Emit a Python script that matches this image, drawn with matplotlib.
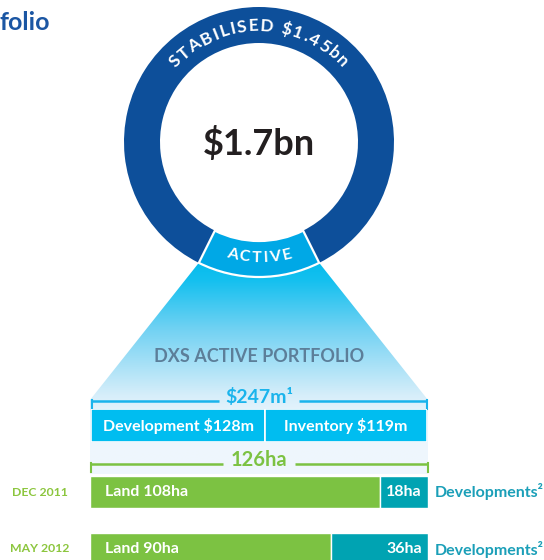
import numpy as np
import matplotlib
matplotlib.use("Agg")
import matplotlib.pyplot as plt
from matplotlib.patches import Wedge, Polygon
from matplotlib.font_manager import FontProperties, findfont, get_font

# ---------------- data ----------------
title_fragment = "folio"
total_label = "$1.7bn"
total_value = 1.7
stabilised_value = 1.45
stabilised_label = "STABILISED $1.45bn"
active_label = "ACTIVE"
portfolio_title = "DXS ACTIVE PORTFOLIO"
portfolio_total_label = "$247m\u00b9"
portfolio_parts = ["Development", "Inventory"]
portfolio_values = [128, 119]
area_total_label = "126ha"
periods = ["DEC 2011", "MAY 2012"]
land_ha = [108, 90]
dev_ha = [18, 36]
dev_suffix = "Developments\u00b2"

FONT = "Lato"
plt.rcParams['font.family'] = [FONT, 'DejaVu Sans']

W, H = 544, 560
fig = plt.figure(figsize=(W / 100, H / 100), dpi=100)
ax = fig.add_axes([0, 0, 1, 1])
ax.set_xlim(0, W)
ax.set_ylim(H, 0)
ax.axis('off')

c_ring = "#0d4f9a"
c_active = "#00a8e6"
c_cyan = "#1ab4ec"
c_box = "#00bdf0"
c_green = "#7cc242"
c_teal = "#00a3b2"
c_teal_txt = "#1a9fb8"

cx, cy, R, r = 259, 142, 135, 99

# active fraction from the values
active_frac = (total_value - stabilised_value) / total_value
half = active_frac * 360 / 2.0

# ---------------- gradient cone ----------------
ang = np.radians(np.linspace(-half, half, 40))
cone = [(cx + R * np.sin(a), cy + R * np.cos(a)) for a in ang] + [(428, 400), (428, 474), (90, 474), (90, 400)]
clip = Polygon(cone, closed=True, facecolor='none', edgecolor='none', transform=ax.transData)
ax.add_patch(clip)
ys = np.linspace(255, 474, 300)
stops_y = [255, 280, 330, 395, 420, 474]
stops_c = np.array([[0, 186, 236], [20, 192, 239], [115, 210, 243], [214, 238, 250], [236, 246, 253], [240, 247, 253]]) / 255.0
grad = np.stack([np.interp(ys, stops_y, stops_c[:, k]) for k in range(3)], axis=1)[:, None, :]
im = ax.imshow(grad, extent=(90, 428, 474, 255), origin='upper', aspect='auto', zorder=1, interpolation='bilinear')
im.set_clip_path(clip)
ax.set_xlim(0, W)
ax.set_ylim(H, 0)

# ---------------- ring ----------------
ax.add_patch(Wedge((cx, cy), R, 90 + half, 90 + 360 - half, width=R - r,
                   facecolor=c_ring, edgecolor='none', zorder=2))
ax.add_patch(Wedge((cx, cy), R, 90 - half, 90 + half, width=R - r,
                   facecolor=c_active, edgecolor='white', linewidth=1.6, zorder=3))

# ---------------- curved text helper ----------------
def arc_text(text, radius, size, color, tracking, bottom=False):
    fp = FontProperties(family=FONT, weight='bold', size=size)
    font = get_font(findfont(fp))
    font.set_size(size, 100)
    advs = []
    for ch in text:
        g = font.load_char(ord(ch))
        advs.append(g.linearHoriAdvance / 65536.0)
    total = sum(advs) + tracking * (len(text) - 1)
    s = -total / 2.0
    for ch, a in zip(text, advs):
        mid = s + a / 2.0
        th = mid / radius
        if not bottom:
            x = cx + radius * np.sin(th)
            y = cy - radius * np.cos(th)
            rot = -np.degrees(th)
        else:
            x = cx + radius * np.sin(th)
            y = cy + radius * np.cos(th)
            rot = np.degrees(th)
        ax.text(x, y, ch, fontproperties=fp, color=color, ha='center', va='center',
                rotation=rot, rotation_mode='anchor', zorder=5)
        s += a + tracking

arc_text(stabilised_label, 116, 12.5, 'white', 1.9)
arc_text(active_label, 116, 11.5, 'white', 1.8, bottom=True)

ax.text(cx, 143, total_label, fontsize=26, fontweight='bold', color="#231f20",
        ha='center', va='center', zorder=5)

ax.text(-1, 23, title_fragment, fontsize=18, fontweight='bold', color="#1b56a3",
        ha='left', va='center')

ax.text(259, 357, portfolio_title, fontsize=13, fontweight='bold', color="#5c7e99",
        ha='center', va='center', zorder=5)

# ---------------- brackets ----------------
def bracket(y, x0, x1, gap0, gap1, color, label, size):
    ax.plot([x0, gap0], [y, y], color=color, lw=1.8, solid_capstyle='butt', zorder=4)
    ax.plot([gap1, x1], [y, y], color=color, lw=1.8, solid_capstyle='butt', zorder=4)
    ax.plot([x0 + 0.5, x0 + 0.5], [y - 0.9, y + 8], color=color, lw=1.5, zorder=4)
    ax.plot([x1 - 0.5, x1 - 0.5], [y - 0.9, y + 8], color=color, lw=1.5, zorder=4)
    ax.text((gap0 + gap1) / 2, y - 4, label, fontsize=size, fontweight='bold', color=color,
            ha='center', va='center', zorder=5)

bracket(401, 91, 427, 219, 299, c_cyan, portfolio_total_label, 14)
bracket(464, 90, 428, 223, 295, c_green, area_total_label, 14.5)

# ---------------- value boxes ----------------
axv = fig.add_axes([91 / W, (H - 442) / H, 336 / W, 33 / H])
axv.set_xlim(0, sum(portfolio_values))
axv.set_ylim(0, 1)
axv.axis('off')
lefts = np.concatenate([[0], np.cumsum(portfolio_values)[:-1]])
axv.barh(0.5, portfolio_values, left=lefts, height=1.0, color=c_box, edgecolor='white', linewidth=1.2)
for name, v, l in zip(portfolio_parts, portfolio_values, lefts):
    axv.text(l + v / 2, 0.5, f"{name} ${v}m", fontsize=11.5, fontweight='bold', color='white',
             ha='center', va='center')

# ---------------- land bars ----------------
axb = fig.add_axes([90 / W, (H - 600) / H, 338 / W, 140 / H])
axb.set_xlim(0, land_ha[0] + dev_ha[0])
axb.set_ylim(600, 460)
axb.axis('off')
rows = [492, 549]
axb.barh(rows, land_ha, height=32, color=c_green, edgecolor='white', linewidth=1.0)
axb.barh(rows, dev_ha, left=land_ha, height=32, color=c_teal, edgecolor='white', linewidth=1.0)
tot = land_ha[0] + dev_ha[0]
for i, (p, l, d) in enumerate(zip(periods, land_ha, dev_ha)):
    yrow = rows[i]
    ax.text(40, yrow, p, fontsize=8.8, fontweight='bold', color="#8cc63e", ha='center', va='center')
    axb.text(tot * 15 / 338, yrow, f"Land {l}ha", fontsize=11.5, fontweight='bold', color='white',
             ha='left', va='center')
    axb.text(l + d - tot * 6 / 338, yrow, f"{d}ha", fontsize=11.5, fontweight='bold', color='white',
             ha='right', va='center')
    ax.text(435, yrow, dev_suffix, fontsize=11.5, fontweight='bold', color=c_teal_txt,
            ha='left', va='center')

fig.savefig("out.png", dpi=100)
